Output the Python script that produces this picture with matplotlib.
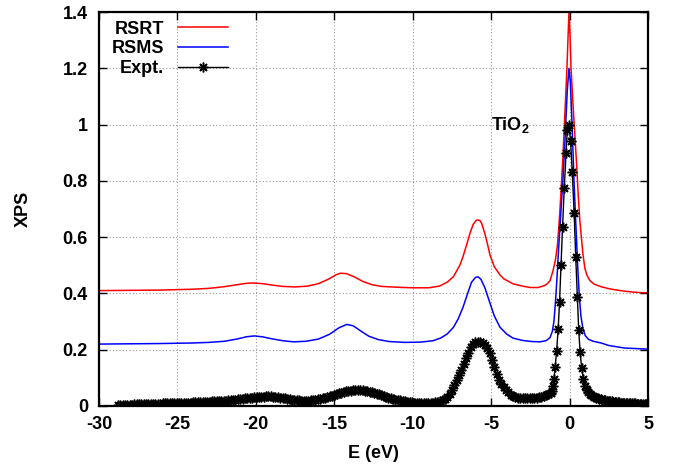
import matplotlib
matplotlib.use("Agg")
from matplotlib import pyplot as plt
import numpy as np

plt.rcParams['font.family'] = ['Liberation Sans', 'DejaVu Sans']
plt.rcParams['font.weight'] = 'bold'
plt.rcParams['axes.unicode_minus'] = False
plt.rcParams['mathtext.fontset'] = 'custom'
plt.rcParams['mathtext.rm'] = 'Liberation Sans:bold'

# ---- RSRT theory curve (E in eV, intensity) ----
e_rsrt = [-30, -28, -26, -24, -23, -22, -21.2, -20.6, -20.2, -19.6, -19, -18.3, -17.5,
          -16.7, -16, -15.4, -14.9, -14.6, -14.2, -13.7, -13.2, -12.6, -12, -11, -10,
          -9, -8.3, -7.8, -7.4, -7.0, -6.8, -6.5, -6.35, -6.15, -5.95, -5.84, -5.7,
          -5.6, -5.4, -5.2, -5.08, -4.8, -4.44, -4.2, -3.6, -3.0, -2.5, -2.0, -1.6,
          -1.45, -1.25, -1.06, -0.9, -0.78, -0.68, -0.58, -0.49, -0.43, -0.3, -0.17,
          -0.1, -0.04, 0.02, 0.09, 0.25, 0.43, 0.55, 0.65, 0.75, 0.85, 0.97, 1.1, 1.3,
          1.6, 2.0, 2.5, 3.0, 3.5, 4.0, 4.5, 5.0]
i_rsrt = [0.410, 0.411, 0.412, 0.415, 0.418, 0.424, 0.431, 0.436, 0.437, 0.435, 0.430,
          0.425, 0.423, 0.426, 0.435, 0.450, 0.466, 0.472, 0.470, 0.458, 0.443, 0.431,
          0.425, 0.422, 0.420, 0.420, 0.426, 0.440, 0.460, 0.500, 0.530, 0.585, 0.614,
          0.645, 0.660, 0.661, 0.658, 0.648, 0.612, 0.567, 0.537, 0.495, 0.466, 0.452,
          0.434, 0.426, 0.421, 0.421, 0.428, 0.433, 0.445, 0.480, 0.520, 0.570, 0.640,
          0.730, 0.820, 0.880, 1.040, 1.200, 1.310, 1.400, 1.330, 1.200, 1.040, 0.874,
          0.750, 0.660, 0.600, 0.540, 0.490, 0.465, 0.445, 0.432, 0.424, 0.417, 0.412,
          0.408, 0.405, 0.403, 0.402]

# ---- RSMS theory curve ----
e_rsms = [-30, -28, -26, -24, -23, -22, -21.2, -20.6, -20.1, -19.6, -19, -18.3, -17.6,
          -16.8, -16, -15.3, -14.7, -14.2, -13.8, -13.3, -12.8, -12.2, -11.5, -10.5,
          -9.5, -8.7, -8.2, -7.8, -7.4, -7.1, -6.8, -6.5, -6.25, -6.0, -5.84, -5.65,
          -5.4, -5.08, -4.8, -4.44, -4.0, -3.6, -3.0, -2.4, -1.9, -1.5, -1.25, -1.1,
          -1.0, -0.9, -0.8, -0.7, -0.6, -0.5, -0.43, -0.33, -0.25, -0.15, -0.04, 0.05,
          0.12, 0.2, 0.28, 0.37, 0.45, 0.53, 0.62, 0.72, 0.85, 1.0, 1.2, 1.5, 2.0, 2.5,
          3.5, 5.0]
i_rsms = [0.220, 0.221, 0.222, 0.224, 0.226, 0.230, 0.238, 0.246, 0.249, 0.246, 0.239,
          0.232, 0.228, 0.230, 0.238, 0.255, 0.278, 0.290, 0.285, 0.266, 0.248, 0.236,
          0.229, 0.226, 0.227, 0.232, 0.242, 0.256, 0.280, 0.310, 0.350, 0.400, 0.440,
          0.457, 0.459, 0.450, 0.420, 0.366, 0.320, 0.280, 0.255, 0.241, 0.233, 0.229,
          0.228, 0.232, 0.243, 0.265, 0.300, 0.370, 0.460, 0.560, 0.650, 0.740, 0.800,
          0.900, 1.000, 1.120, 1.200, 1.150, 1.050, 0.930, 0.800, 0.680, 0.580, 0.480,
          0.390, 0.320, 0.275, 0.250, 0.237, 0.230, 0.224, 0.215, 0.206, 0.202]

# ---- experimental spectrum ----
# valence band part, sampled every 0.15 eV from -28.8 eV to -1.2 eV
i_expt_vb = [0.004, 0.004, 0.004, 0.005, 0.005, 0.005, 0.005, 0.006, 0.006, 0.006,
             0.006, 0.007, 0.007, 0.007, 0.007, 0.008, 0.008, 0.008, 0.008, 0.009,
             0.009, 0.009, 0.010, 0.010, 0.010, 0.010, 0.011, 0.011, 0.011, 0.012,
             0.012, 0.012, 0.013, 0.013, 0.013, 0.014, 0.014, 0.014, 0.015, 0.015,
             0.016, 0.016, 0.017, 0.017, 0.018, 0.018, 0.019, 0.020, 0.021, 0.022,
             0.023, 0.024, 0.025, 0.026, 0.027, 0.028, 0.029, 0.030, 0.031, 0.031,
             0.032, 0.033, 0.033, 0.034, 0.034, 0.034, 0.033, 0.032, 0.031, 0.030,
             0.028, 0.027, 0.025, 0.024, 0.022, 0.021, 0.020, 0.020, 0.019, 0.019,
             0.019, 0.019, 0.020, 0.021, 0.022, 0.024, 0.026, 0.028, 0.030, 0.032,
             0.035, 0.037, 0.040, 0.042, 0.045, 0.047, 0.050, 0.052, 0.053, 0.055,
             0.056, 0.056, 0.057, 0.057, 0.056, 0.055, 0.053, 0.051, 0.049, 0.047,
             0.044, 0.041, 0.038, 0.036, 0.033, 0.030, 0.028, 0.025, 0.023, 0.021,
             0.020, 0.018, 0.016, 0.015, 0.014, 0.013, 0.012, 0.011, 0.011, 0.010,
             0.010, 0.010, 0.010, 0.011, 0.012, 0.013, 0.015, 0.018, 0.021, 0.026,
             0.033, 0.044, 0.058, 0.074, 0.092, 0.110, 0.128, 0.149, 0.170, 0.190,
             0.210, 0.219, 0.226, 0.228, 0.228, 0.225, 0.218, 0.206, 0.190, 0.165,
             0.138, 0.114, 0.092, 0.078, 0.066, 0.056, 0.048, 0.040, 0.034, 0.032,
             0.030, 0.029, 0.028, 0.028, 0.028, 0.028, 0.028, 0.028, 0.029, 0.031,
             0.033, 0.035, 0.038, 0.042, 0.047]
e_expt_vb = np.round(-28.8 + 0.15 * np.arange(len(i_expt_vb)), 2)

# main peak, individual points
e_expt_pk = [-1.15, -1.08, -1.0, -0.92, -0.83, -0.73, -0.64, -0.55, -0.45, -0.34,
             -0.23, -0.15, -0.05, 0.06, 0.17, 0.29, 0.39, 0.49, 0.58, 0.67, 0.77, 0.88]
i_expt_pk = [0.052, 0.071, 0.097, 0.137, 0.195, 0.272, 0.371, 0.500, 0.637, 0.774,
             0.898, 0.981, 1.000, 0.943, 0.830, 0.685, 0.530, 0.388, 0.270, 0.193,
             0.134, 0.095]

# high energy tail, every 0.1 eV from 0.98 eV
i_expt_tail = [0.072, 0.058, 0.049, 0.043, 0.039, 0.035, 0.032, 0.030, 0.028, 0.026,
               0.024, 0.022, 0.021, 0.020, 0.019, 0.018, 0.017, 0.016, 0.015, 0.015,
               0.014, 0.013, 0.013, 0.012, 0.012, 0.011, 0.011, 0.010, 0.010, 0.010,
               0.009, 0.009, 0.009, 0.008, 0.008, 0.008, 0.007, 0.007, 0.007, 0.007,
               0.006]
e_expt_tail = np.round(0.98 + 0.1 * np.arange(len(i_expt_tail)), 2)

e_expt = np.concatenate([e_expt_vb, e_expt_pk, e_expt_tail])
i_expt = np.concatenate([i_expt_vb, i_expt_pk, i_expt_tail])

x_ticks = [-30, -25, -20, -15, -10, -5, 0, 5]
y_ticks = [0, 0.2, 0.4, 0.6, 0.8, 1.0, 1.2, 1.4]
y_tick_labels = ['0', '0.2', '0.4', '0.6', '0.8', '1', '1.2', '1.4']

fig = plt.figure(figsize=(6.8, 4.68), dpi=100)
ax = fig.add_axes([0.1456, 0.1325, 0.8074, 0.8418])

ax.plot(e_rsrt, i_rsrt, color='#ff0000', lw=1.1, label='RSRT')
ax.plot(e_rsms, i_rsms, color='#0000ff', lw=1.1, label='RSMS')
# asterisk markers (8 spokes) like the gnuplot point type
ax.plot(e_expt, i_expt, color='black', lw=1.0, marker=(8, 2, 0), ms=7,
        mew=1.1, label='Expt.')

ax.set_xlim(-30, 5)
ax.set_ylim(0, 1.4)
ax.set_xticks(x_ticks)
ax.set_yticks(y_ticks)
ax.set_yticklabels(y_tick_labels)
ax.tick_params(direction='in', top=True, right=True, length=6, width=1,
               labelsize=13)
ax.tick_params(axis='y', pad=8)
ax.tick_params(axis='x', pad=7)
for sp in ax.spines.values():
    sp.set_linewidth(1.6)
ax.grid(True, linestyle=(0, (1, 2)), color='#999999', lw=0.8)

ax.set_xlabel('E (eV)', fontsize=13, fontweight='bold', labelpad=9)
ax.set_ylabel('XPS', fontsize=13, fontweight='bold', labelpad=22)

ax.text(-5.02, 0.98, r'TiO$_\mathrm{2}$', fontsize=13, fontweight='bold',
        ha='left', va='baseline')

ax.legend(loc='upper left', bbox_to_anchor=(0.0, 1.01), frameon=False,
          markerfirst=False, fontsize=13, handlelength=2.8,
          handletextpad=0.75, labelspacing=0.15, numpoints=1,
          borderaxespad=0.3)

fig.savefig('out.png', dpi=100)
